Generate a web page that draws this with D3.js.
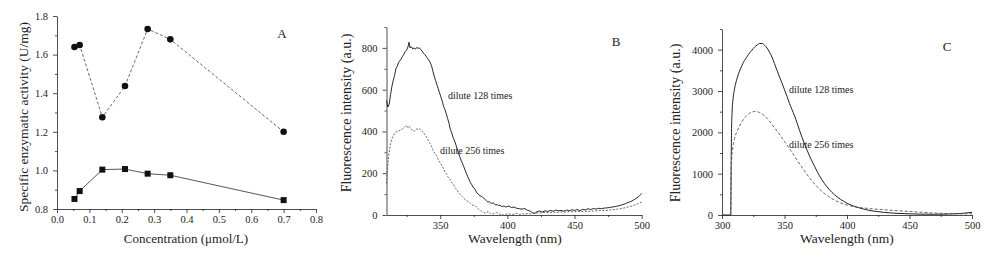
<!DOCTYPE html>
<html>
<head>
<meta charset="utf-8">
<script src="https://cdn.jsdelivr.net/npm/d3@7"></script>
<style>
  body { margin: 0; background: #fff; }
  svg { display: block; }
</style>
</head>
<body>
<svg id="drawing_region"></svg>
<script>
// ---- panel A : specific activity vs concentration
const concentration = [0.054, 0.07, 0.14, 0.21, 0.28, 0.35, 0.70];
const activityCircle = [1.639, 1.65, 1.275, 1.437, 1.733, 1.679, 1.20];
const activitySquare = [0.852, 0.893, 1.004, 1.007, 0.983, 0.975, 0.846];
const ticksA_x = [0, 0.1, 0.2, 0.3, 0.4, 0.5, 0.6, 0.7, 0.8];
const ticksA_y = [0.8, 1.0, 1.2, 1.4, 1.6, 1.8];

// ---- panel B : noisy spectra  [wavelength, intensity]
const specB128 = [
  [310,548],[311,517],[312,530],[313,575],[314,615],[315,644],[316,668],[317,700],[318,712],[319,730],
  [320,739],[321,748],[322,760],[323,770],[324,783],[325,790],[326,805],[326.7,827],[327.5,800],[328.5,806],
  [329.5,795],[330.5,800],[331.5,794],[332.5,802],[333.5,798],[334.5,800],[335.5,792],[336.5,785],[337.5,775],
  [338.5,768],[339.5,760],[340.5,750],[341.5,742],[342.5,730],[343.5,715],[344.5,690],[345.5,665],[346.5,645],
  [347.5,625],[348.5,605],[349.5,585],[350.5,565],[351.5,545],[352.5,520],[353.5,505],[354.5,485],[355.5,462],
  [356.5,440],[357.5,410],[358.5,395],[359.5,372],[360.5,358],[361.5,340],[362.5,318],[363.5,300],[364.5,280],
  [365.5,262],[366.5,248],[367.5,232],[368.5,215],[369.5,198],[370.5,183],[371.5,170],[372.5,155],[373.5,145],
  [374.5,132],[375.5,128],[376.5,115],[377.5,104],[378.5,100],[379.5,92],[380.5,90],[381.5,85],[382.5,80],
  [383.5,74],[384.5,68],[385.5,62],[386.5,64],[387.5,58],[388.5,55],[389.5,58],[390.5,52],[391.5,48],
  [392.5,50],[393.5,45],[394.5,47],[395.5,42],[396.5,40],[397.5,44],[398.5,38],[399.5,40],[401,43],[403,36],
  [405,38],[407,32],[409,30],[411,28],[413,31],[415,22],[417,19],[419,10],[420.5,8],[422,16],[424,19],
  [426,14],[428,20],[430,17],[432,22],[434,18],[436,24],[438,20],[440,22],[442,18],[444,24],[446,20],
  [448,25],[450,22],[452,26],[454,21],[456,27],[458,24],[460,30],[462,26],[464,31],[466,28],[468,32],
  [470,30],[472,33],[474,34],[476,36],[478,38],[480,40],[482,43],[484,46],[486,50],[488,55],[490,60],
  [492,65],[494,72],[496,80],[498,90],[500,103]
];
const specB256 = [
  [310,151],[311,246],[312,300],[313,340],[314,365],[315,378],[316,390],[317,397],[318,400],[319,403],
  [320,405],[321,410],[322,412],[323,418],[324,424],[324.8,430],[325.5,420],[326.5,425],[327.5,413],[328.5,410],
  [329.5,405],[330.5,400],[331.5,408],[332.5,412],[333.5,410],[334.5,414],[335.5,405],[336.5,400],[337.5,396],
  [338.5,385],[339.5,376],[340.5,365],[341.5,352],[342.5,342],[343.5,330],[344.5,312],[345.5,300],[346.5,290],
  [347.5,282],[348.5,265],[349.5,254],[350.5,245],[351.5,232],[352.5,222],[353.5,206],[354.5,198],[355.5,185],
  [356.5,176],[357.5,168],[358.5,155],[359.5,150],[360.5,138],[361.5,128],[362.5,120],[363.5,108],[364.5,100],
  [365.5,95],[366.5,88],[367.5,80],[368.5,74],[369.5,70],[370.5,66],[371.5,62],[372.5,56],[373.5,50],
  [374.5,46],[375.5,44],[376.5,42],[377.5,35],[378.5,28],[379.5,22],[380.5,20],[381.5,15],[382.5,12],
  [383.5,8],[384.5,12],[385.5,16],[386.5,14],[387.5,6],[389,4],[390.5,8],[392,12],[393.5,8],[395,2],
  [397,0],[399,3],[401,6],[403,2],[405,4],[407,8],[409,3],[411,6],[413,4],[415,7],[417,5],[419,8],
  [421,9],[423,11],[425,10],[428,13],[431,12],[434,14],[437,13],[440,15],[443,14],[446,16],[449,15],
  [452,17],[455,16],[458,18],[461,17],[464,19],[467,20],[470,21],[473,22],[476,24],[479,26],[482,28],
  [485,31],[488,35],[491,40],[494,46],[497,53],[500,62]
];
const ticksB_x = [350, 400, 450, 500];
const ticksB_y = [0, 200, 400, 600, 800];

// ---- panel C : smooth spectra
const specC128 = [
  [300,0],[307,0],[307.3,1200],[307.6,2000],[308,2450],[309,2850],[310,3050],[312,3300],[314,3480],
  [316,3620],[318,3740],[320,3830],[322,3920],[324,3990],[326,4060],[328,4110],[330,4150],[332,4150],
  [334,4110],[336,4040],[338,3940],[340,3820],[342,3660],[344,3500],[346,3340],[348,3190],[350,3030],
  [352,2870],[354,2700],[356,2550],[358,2400],[360,2230],[362,2050],[364,1880],[366,1720],[368,1570],
  [370,1430],[372,1300],[374,1180],[376,1060],[378,950],[380,850],[382,760],[384,680],[386,610],
  [388,545],[390,490],[392,440],[395,375],[398,320],[400,285],[405,220],[410,170],[415,130],[420,100],
  [425,80],[430,62],[435,50],[440,40],[450,28],[460,20],[470,18],[480,22],[490,35],[495,48],[500,65]
];
const specC256 = [
  [307,0],[307.3,900],[307.7,1350],[308.5,1600],[310,1850],[312,2020],[314,2150],[316,2260],[318,2350],
  [320,2410],[322,2460],[324,2490],[326,2505],[328,2500],[330,2480],[332,2450],[334,2400],[336,2340],
  [338,2270],[340,2190],[345,1990],[350,1780],[355,1560],[360,1330],[365,1110],[370,900],[375,720],
  [380,570],[385,450],[390,360],[395,290],[400,240],[405,205],[410,180],[415,165],[420,150],[430,125],
  [440,105],[450,85],[460,65],[470,48],[480,35],[490,28],[500,30]
];
const ticksC_x = [300, 350, 400, 450, 500];
const ticksC_y = [0, 1000, 2000, 3000, 4000];

const FONT = '"Liberation Serif", "Times New Roman", serif';
const INK = '#222';

const svg = d3.select('#drawing_region')
    .attr('width', 1008)
    .attr('height', 263)
    .style('font-family', FONT);

// draw left + bottom axes with major and minor ticks
function drawAxes( x, y, xMajor, xMinor, yMajor, yMinor, fx, fy ) {
    const xr = x.range(), yr = y.range();

    const gx = svg.append('g').attr('transform', `translate(0, ${yr[0]})`);
    gx.call( d3.axisBottom(x).tickValues(xMinor).tickSize(2).tickSizeOuter(0).tickFormat('') );
    gx.select('.domain').remove();
    const gx2 = svg.append('g').attr('transform', `translate(0, ${yr[0]})`);
    gx2.call( d3.axisBottom(x).tickValues(xMajor).tickSize(4).tickSizeOuter(0).tickPadding(3).tickFormat(fx) );

    const gy = svg.append('g').attr('transform', `translate(${xr[0]}, 0)`);
    gy.call( d3.axisLeft(y).tickValues(yMinor).tickSize(2).tickSizeOuter(0).tickFormat('') );
    gy.select('.domain').remove();
    const gy2 = svg.append('g').attr('transform', `translate(${xr[0]}, 0)`);
    gy2.call( d3.axisLeft(y).tickValues(yMajor).tickSize(4).tickSizeOuter(0).tickPadding(5).tickFormat(fy) );

    svg.selectAll('.tick line, .domain').attr('stroke', INK).attr('stroke-width', 0.8);
    svg.selectAll('.tick text')
        .attr('font-family', FONT)
        .attr('font-size', '10.5px')
        .attr('fill', INK);
}

function label( x, y, txt, size, rotate, anchor ) {
    const t = svg.append('text')
        .attr('x', x).attr('y', y)
        .attr('font-size', size)
        .attr('fill', INK)
        .attr('text-anchor', anchor || 'middle')
        .attr('dominant-baseline', 'middle')
        .text(txt);
    if (rotate) t.attr('transform', `rotate(-90, ${x}, ${y})`);
    return t;
}

// ===== panel A
const xA = d3.scaleLinear().domain([0, 0.8]).range([57, 316]);
const yA = d3.scaleLinear().domain([0.8, 1.8]).range([209, 16]);
drawAxes( xA, yA, ticksA_x, d3.range(0.05, 0.8, 0.1), ticksA_y, [0.9, 1.1, 1.3, 1.5, 1.7],
    d3.format('.1f'), d3.format('.1f') );

const lineA = d3.line().x( (d, i) => xA(concentration[i]) ).y( d => yA(d) );
svg.append('path').attr('d', lineA(activityCircle))
    .attr('fill', 'none').attr('stroke', '#444').attr('stroke-width', 0.8).attr('stroke-dasharray', '3,2');
svg.append('path').attr('d', lineA(activitySquare))
    .attr('fill', 'none').attr('stroke', '#444').attr('stroke-width', 0.9);

svg.selectAll('circle.pa').data(activityCircle).enter().append('circle')
    .attr('cx', (d, i) => xA(concentration[i]))
    .attr('cy', d => yA(d))
    .attr('r', 3.3)
    .attr('fill', '#111');
svg.selectAll('rect.pa').data(activitySquare).enter().append('rect')
    .attr('x', (d, i) => xA(concentration[i]) - 3)
    .attr('y', d => yA(d) - 3)
    .attr('width', 6).attr('height', 6)
    .attr('fill', '#111');

label(282, 35, 'A', '13px');
label(186, 240, 'Concentration (\u03bcmol/L)', '13px');
label(25, 117, 'Specific enzymatic activity (U/mg)', '13.5px', true);

// ===== panel B
const xB = d3.scaleLinear().domain([310, 500]).range([386.5, 641.7]);
const yB = d3.scaleLinear().domain([0, 900]).range([215, 27]);
drawAxes( xB, yB, ticksB_x, [325, 375, 425, 475], ticksB_y, [100, 300, 500, 700, 900],
    d3.format('d'), d3.format('d') );

const lineB = d3.line().x( d => xB(d[0]) ).y( d => yB(d[1]) );
svg.append('path').attr('d', lineB(specB128))
    .attr('fill', 'none').attr('stroke', '#111').attr('stroke-width', 0.9);
svg.append('path').attr('d', lineB(specB256))
    .attr('fill', 'none').attr('stroke', '#555').attr('stroke-width', 0.9).attr('stroke-dasharray', '2,1.5');

label(616, 43, 'B', '13px');
label(448, 97, 'dilute 128 times', '10px', false, 'start');
label(440, 152, 'dilute 256 times', '10px', false, 'start');
label(515, 240, 'Wavelength (nm)', '13.5px');
label(348, 113, 'Fluorescence intensity (a.u.)', '14px', true);

// ===== panel C
const xC = d3.scaleLinear().domain([300, 500]).range([722, 972]);
const yC = d3.scaleLinear().domain([0, 4500]).range([215, 29]);
drawAxes( xC, yC, ticksC_x, [325, 375, 425, 475], ticksC_y, [500, 1500, 2500, 3500, 4500],
    d3.format('d'), d3.format('d') );

const lineC = d3.line().x( d => xC(d[0]) ).y( d => yC(d[1]) ).curve(d3.curveMonotoneX);
svg.append('path').attr('d', lineC(specC128))
    .attr('fill', 'none').attr('stroke', '#222').attr('stroke-width', 1);
svg.append('path').attr('d', lineC(specC256))
    .attr('fill', 'none').attr('stroke', '#555').attr('stroke-width', 0.9).attr('stroke-dasharray', '3,2');

label(947, 48, 'C', '13px');
label(789, 91, 'dilute 128 times', '10px', false, 'start');
label(789, 146, 'dilute 256 times', '10px', false, 'start');
label(847, 240, 'Wavelength (nm)', '13.5px');
label(677, 123, 'Fluorescence intensity (a.u.)', '14px', true);
</script>
</body>
</html>
